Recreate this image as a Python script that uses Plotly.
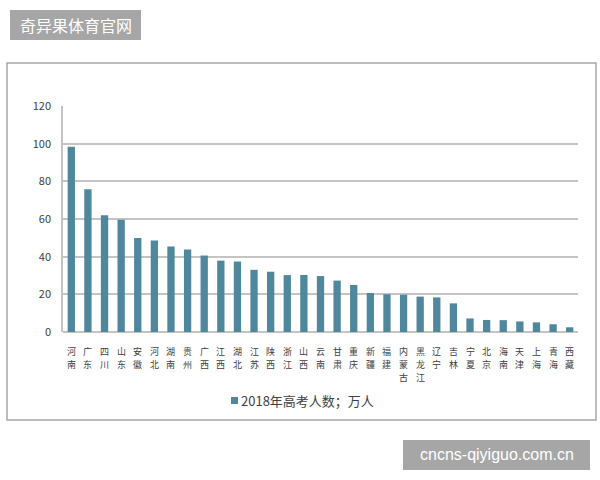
import plotly.graph_objects as go

provinces = ["河南", "广东", "四川", "山东", "安徽", "河北", "湖南", "贵州", "广西", "江西",
             "湖北", "江苏", "陕西", "浙江", "山西", "云南", "甘肃", "重庆", "新疆", "福建",
             "内蒙古", "黑龙江", "辽宁", "吉林", "宁夏", "北京", "海南", "天津", "上海", "青海", "西藏"]
values = [98.3, 75.8, 62.0, 59.6, 49.9, 48.6, 45.4, 43.8, 40.6, 37.9,
          37.4, 33.0, 32.0, 30.2, 30.3, 29.7, 27.3, 25.0, 20.7, 20.0,
          19.8, 18.8, 18.4, 15.2, 7.2, 6.4, 6.3, 5.6, 5.1, 4.1, 2.5]
series_name = "2018年高考人数；万人"
y_ticks = [0, 20, 40, 60, 80, 100, 120]

FONT = "Noto Sans CJK SC, Noto Sans, sans-serif"
BAR_COLOR = "#4f889c"
TEXT_COLOR = "#404040"

fig = go.Figure()
fig.add_trace(go.Bar(
    x=provinces, y=values, name=series_name,
    marker=dict(color=BAR_COLOR, line=dict(width=0)),
    showlegend=False,
))

W, H = 600, 480
L, R, T, B = 63, 600 - 578, 106, 480 - 332
pw, ph = W - L - R, H - T - B

def px(x):
    return (x - L) / pw

def py(y):
    return (H - B - y) / ph

shapes = [
    # outer border
    dict(type="rect", xref="paper", yref="paper",
         x0=px(7), x1=px(596), y0=py(420), y1=py(63),
         line=dict(color="#a8a8a8", width=1.5), fillcolor="rgba(0,0,0,0)", layer="below"),
    # top-left badge
    dict(type="rect", xref="paper", yref="paper",
         x0=px(10), x1=px(141), y0=py(40), y1=py(10),
         line=dict(width=0), fillcolor="#a6a6a6"),
    # bottom-right badge
    dict(type="rect", xref="paper", yref="paper",
         x0=px(403), x1=px(590), y0=py(470), y1=py(440),
         line=dict(width=0), fillcolor="#a6a6a6"),
    # legend swatch
    dict(type="rect", xref="paper", yref="paper",
         x0=px(231), x1=px(238), y0=py(404), y1=py(397),
         line=dict(width=0), fillcolor=BAR_COLOR),
]

annotations = [
    dict(text="奇异果体育官网", xref="paper", yref="paper",
         x=px(75.5), y=py(25), xanchor="center", yanchor="middle", showarrow=False,
         font=dict(family=FONT, size=16, color="white")),
    dict(text="cncns-qiyiguo.com.cn", xref="paper", yref="paper",
         x=px(496.5), y=py(455), xanchor="center", yanchor="middle", showarrow=False,
         font=dict(family="Liberation Sans, Arial, sans-serif", size=16, color="white")),
    dict(text=series_name, xref="paper", yref="paper",
         x=px(239), y=py(400), xanchor="left", yanchor="middle", showarrow=False,
         font=dict(family=FONT, size=13, color=TEXT_COLOR)),
]

# category labels: characters stacked vertically, one upright glyph per line
CHAR_STEP = 13.2
for name in provinces:
    for k, ch in enumerate(name):
        annotations.append(dict(
            text=ch, xref="x", yref="paper", x=name, y=py(351 + CHAR_STEP * k),
            xanchor="center", yanchor="middle", showarrow=False,
            font=dict(family=FONT, size=9, color=TEXT_COLOR)))

fig.update_layout(
    width=W, height=H,
    margin=dict(l=L, r=R, t=T, b=B, pad=0),
    paper_bgcolor="white", plot_bgcolor="white",
    font=dict(family=FONT, size=11, color=TEXT_COLOR),
    bargap=0.56,
    shapes=shapes,
    annotations=annotations,
    showlegend=False,
    xaxis=dict(showticklabels=False, showgrid=False, showline=False, ticks="", zeroline=False),
    yaxis=dict(range=[0, 120], tickvals=y_ticks, showgrid=True, gridcolor="#c4c4c4",
               gridwidth=1.5, zeroline=True, zerolinecolor="#c4c4c4", zerolinewidth=1.5,
               showline=True, linecolor="#c4c4c4", linewidth=1.5, ticks="",
               ticklabelstandoff=8,
               tickfont=dict(family=FONT, size=11, color=TEXT_COLOR)),
)

fig.write_html("out.html",
               config={"displayModeBar": False},
               post_script="document.body.style.margin='0';document.body.style.overflow='hidden';")
